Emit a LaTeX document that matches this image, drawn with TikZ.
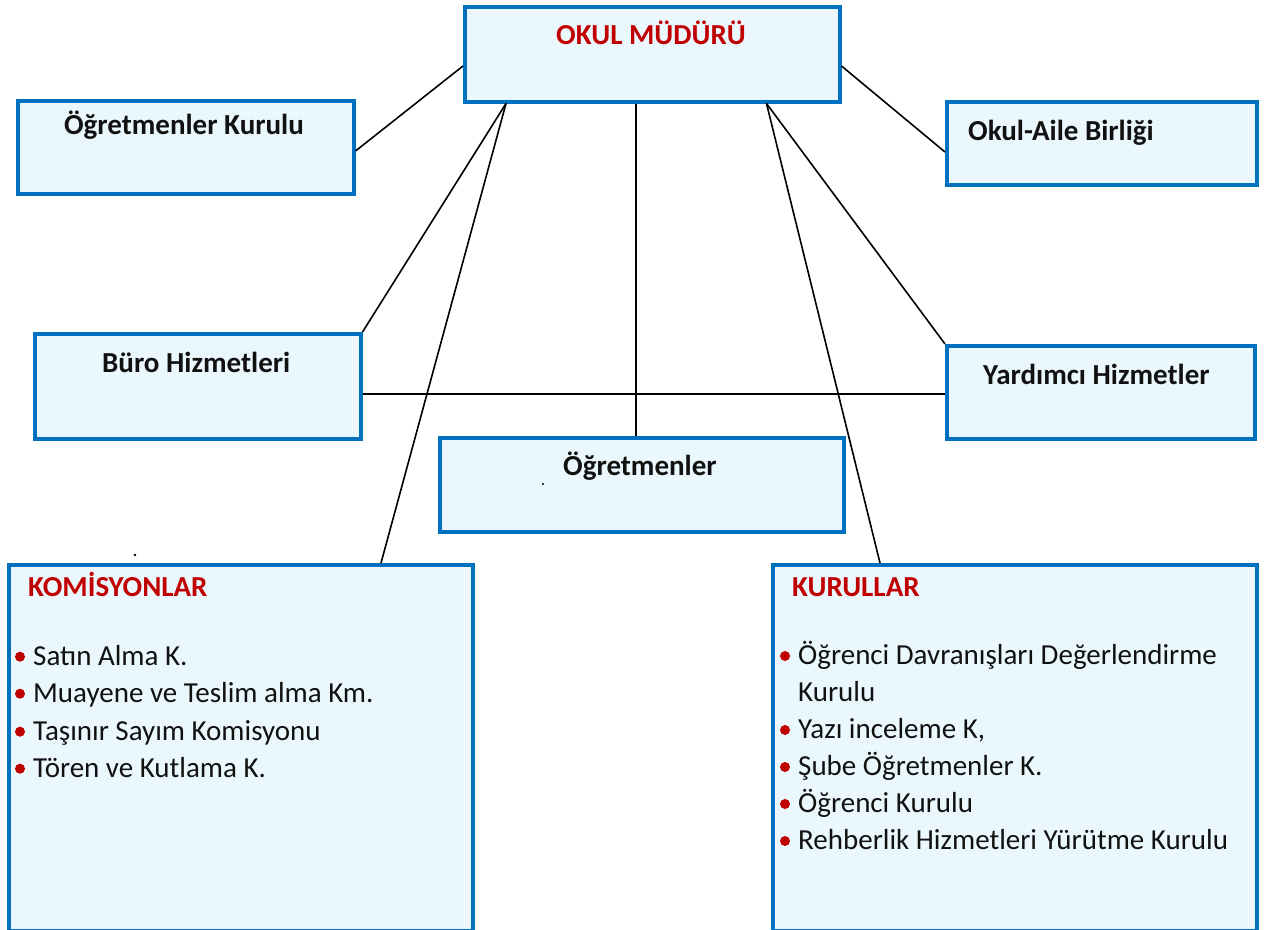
\documentclass[tikz,border=0pt]{standalone}
\usepackage{fontspec}
\setmainfont{Carlito}
\usetikzlibrary{calc}
\definecolor{boxblue}{HTML}{0070C0}
\definecolor{boxfill}{HTML}{EAF8FE}
\definecolor{tred}{HTML}{C00000}
\definecolor{tblack}{HTML}{111111}
\begin{document}
\begin{tikzpicture}[x=1pt,y=-1pt,
  box/.style={draw=boxblue,fill=boxfill,line width=3.5pt,anchor=north west,inner sep=0pt,rectangle},
  lbl/.style={font=\fontsize{29}{36}\selectfont\bfseries,text=tblack,inner sep=0pt},
  rlbl/.style={lbl,text=tred},
  item/.style={font=\fontsize{29}{36}\selectfont,text=tblack,inner sep=0pt,anchor=base west},
  conn/.style={line width=1.6pt,black},
  bul/.style={fill=tred},
  speck/.style={fill=black}]
\useasboundingbox (0,0) rectangle (1269,929);

% boxes
\node[box,minimum width=375pt,minimum height=95pt] (mud) at (463,5) {};
\node[box,minimum width=336pt,minimum height=93pt] (okr) at (16,99) {};
\node[box,minimum width=310pt,minimum height=83pt] (oab) at (945,100) {};
\node[box,minimum width=326pt,minimum height=105pt] (buro) at (33,332) {};
\node[box,minimum width=308pt,minimum height=93pt] (yrd) at (945,344) {};
\node[box,minimum width=404pt,minimum height=94pt] (ogr) at (438,436) {};
\node[box,minimum width=464pt,minimum height=366pt] (kom) at (7,563) {};
\node[box,minimum width=484pt,minimum height=366pt] (kur) at (771,563) {};

% connectors
\draw[conn] ($(mud.north west)+(0,61)$) -- ($(okr.north east)+(0,52)$);
\draw[conn] ($(mud.north east)+(0,61)$) -- ($(oab.north west)+(0,52)$);
\draw[conn] ($(mud.south west)+(43,0)$) -- (buro.north east);
\draw[conn] ($(mud.south west)+(43,0)$) -- ($(kom.north west)+(374,0)$);
\draw[conn] ($(mud.south west)+(173,0)$) -- ($(ogr.north west)+(198,0)$);
\draw[conn] ($(mud.south east)+(-75,0)$) -- (yrd.north west);
\draw[conn] ($(mud.south east)+(-75,0)$) -- ($(kur.north west)+(109,0)$);
\draw[conn] ($(buro.north east)+(0,62)$) -- ($(yrd.north west)+(0,50)$);

% titles
\node[rlbl,anchor=base] (tmud) at (651,44) {OKUL MÜDÜRÜ};
\node[lbl,anchor=base] (tokr) at (184,134) {Öğretmenler Kurulu};
\node[lbl,anchor=base west] (toab) at (968,140) {Okul-Aile Birliği};
\node[lbl,anchor=base west] (tburo) at (102,372) {Büro Hizmetleri};
\node[lbl,anchor=base west] (tyrd) at (983,384) {Yardımcı Hizmetler};
\node[lbl,anchor=base west] (togr) at (563,475) {Öğretmenler};
\node[rlbl,anchor=base west] (tkom) at (28,596) {KOMİSYONLAR};
\node[rlbl,anchor=base west] (tkur) at (792,596) {KURULLAR};

% komisyonlar items
\node[item] (k1) at (33,665) {Satın Alma K.};
\node[item] (k2) at (33,702) {Muayene ve Teslim alma Km.};
\node[item] (k3) at (33,740) {Taşınır Sayım Komisyonu};
\node[item] (k4) at (33,777) {Tören ve Kutlama K.};
\foreach \yy in {665,702,740,777} \fill[bul] (20,\yy-8.3) circle (5pt);

% kurullar items
\node[item] (u1) at (798,664) {Öğrenci Davranışları Değerlendirme};
\node[item] (u1b) at (798,701) {Kurulu};
\node[item] (u2) at (798,738) {Yazı inceleme K,};
\node[item] (u3) at (798,775) {Şube Öğretmenler K.};
\node[item] (u4) at (798,812) {Öğrenci Kurulu};
\node[item] (u5) at (798,849) {Rehberlik Hizmetleri Yürütme Kurulu};
\foreach \yy in {664,738,775,812,849} \fill[bul] (785,\yy-8) circle (5pt);

% stray specks
\fill[speck] (135,555) circle (1.3pt);
\fill[speck] (543,484) circle (1.1pt);
\end{tikzpicture}
\end{document}
